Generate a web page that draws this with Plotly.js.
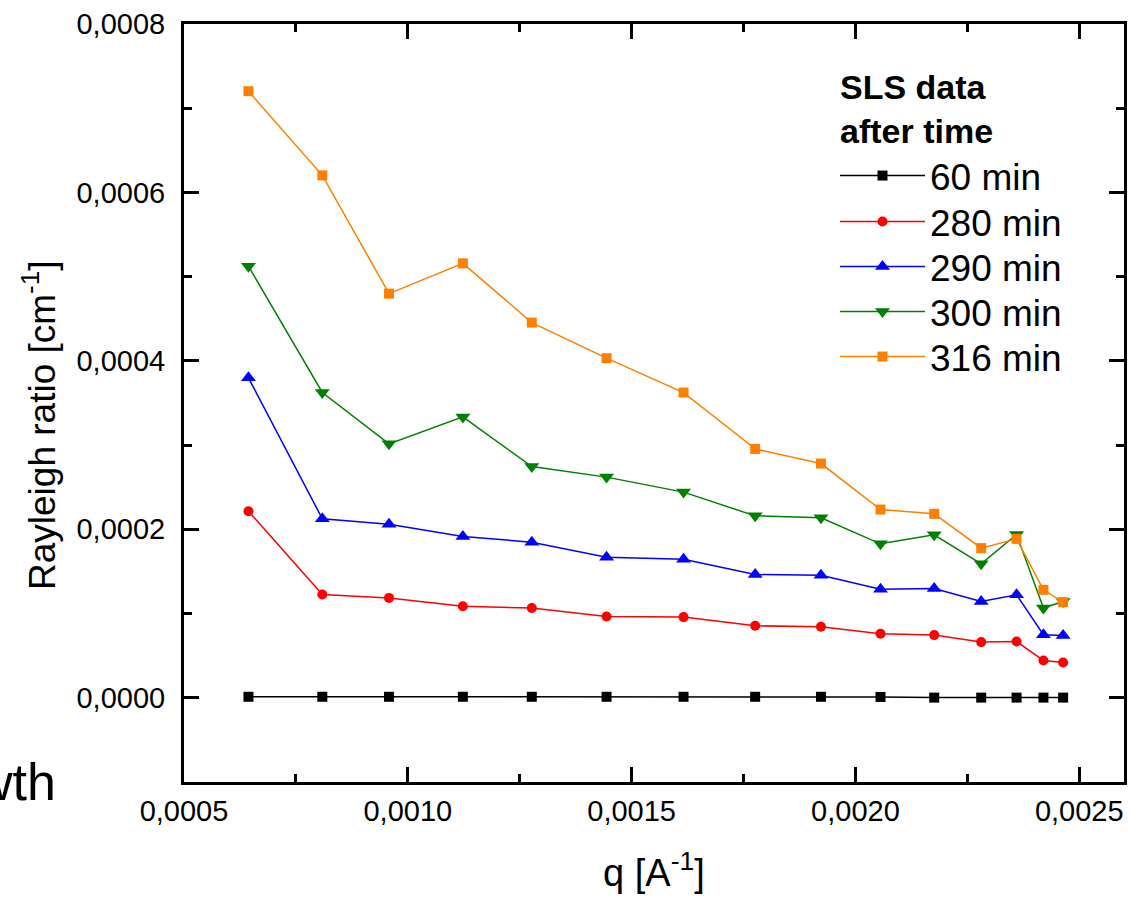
<!DOCTYPE html>
<html>
<head>
<meta charset="utf-8">
<script src="https://cdn.plot.ly/plotly-3.0.1.min.js"></script>
<style>html,body{margin:0;padding:0;background:#fff;}#chart{width:1132px;height:897px;}</style>
</head>
<body>
<div id="chart"></div>
<script>
// q values [A^-1]
var q = [0.000644, 0.000809, 0.000958, 0.001123, 0.001277, 0.001444, 0.001616, 0.001776, 0.001923, 0.002056, 0.002176, 0.002281, 0.002360, 0.002420, 0.002464];

// Rayleigh ratio [cm^-1]
var r60  = [0.0000012, 0.0000012, 0.0000012, 0.0000012, 0.0000012, 0.0000012, 0.0000012, 0.0000012, 0.0000012, 0.0000010, 0.0000002, 0.0000002, 0.0000002, 0.0000002, 0.0000002];
var r280 = [0.0002215, 0.0001226, 0.0001186, 0.0001086, 0.0001065, 0.0000965, 0.0000958, 0.0000855, 0.0000843, 0.0000760, 0.0000744, 0.0000661, 0.0000668, 0.0000443, 0.0000419];
var r290 = [0.0003799, 0.0002125, 0.0002061, 0.0001916, 0.0001848, 0.0001670, 0.0001646, 0.0001463, 0.0001456, 0.0001290, 0.0001297, 0.0001143, 0.0001223, 0.0000748, 0.0000739];
var r300 = [0.0005124, 0.0003625, 0.0003015, 0.0003335, 0.0002745, 0.0002620, 0.0002442, 0.0002160, 0.0002137, 0.0001828, 0.0001935, 0.0001590, 0.0001940, 0.0001065, 0.0001143];
var r316 = [0.0007202, 0.0006203, 0.0004799, 0.0005158, 0.0004455, 0.0004032, 0.0003624, 0.0002955, 0.0002781, 0.0002235, 0.0002184, 0.0001777, 0.0001887, 0.0001282, 0.0001136];

var seriesNames = ['60 min', '280 min', '290 min', '300 min', '316 min'];
var seriesColors = ['#000000', '#ff0000', '#0000ff', '#008000', '#ff8000'];
var seriesSymbols = ['square', 'circle', 'triangle-up', 'triangle-down', 'square'];
var seriesData = [r60, r280, r290, r300, r316];
var markerSizes = [10, 10, 13, 13, 10];

var xTicks = [0.0005, 0.0010, 0.0015, 0.0020, 0.0025];
var xMinor = [0.00075, 0.00125, 0.00175, 0.00225];
var yTicks = [0, 0.0002, 0.0004, 0.0006, 0.0008];
var yMinor = [-0.0001, 0.0001, 0.0003, 0.0005, 0.0007];

var font = 'Liberation Sans, Arial, sans-serif';

// plot area in pixels (for placing paper-referenced items)
var W = 1132, H = 897, L = 184, R = 8, T = 24, B = 115;
var PW = W - L - R, PH = H - T - B;
function px(xp) { return (xp - L) / PW; }
function py(yp) { return (H - B - yp) / PH; }

var legendIds = ['legend', 'legend2', 'legend3', 'legend4', 'legend5'];
var legendRows = [176, 222, 267, 312, 357];

var traces = seriesData.map(function (ys, i) {
  return {
    x: q, y: ys, type: 'scatter', mode: 'lines+markers', name: seriesNames[i],
    line: {color: seriesColors[i], width: 1.5},
    marker: {color: seriesColors[i], symbol: seriesSymbols[i], size: markerSizes[i], line: {width: 0}},
    cliponaxis: false,
    legend: legendIds[i]
  };
});

var axisCommon = {
  showline: true, linecolor: '#000', linewidth: 3, mirror: 'ticks',
  ticks: 'inside', ticklen: 15, tickwidth: 3, tickcolor: '#000',
  showgrid: false, zeroline: false,
  tickfont: {family: font, size: 29, color: '#000'}
};

var layout = {
  width: W, height: H,
  margin: {l: L, r: R, t: T, b: B, pad: 0},
  paper_bgcolor: '#fff', plot_bgcolor: '#fff',
  separators: ', ',
  font: {family: font, color: '#000'},
  showlegend: true,
  xaxis: Object.assign({}, axisCommon, {
    range: [0.0005, 0.0026], tickvals: xTicks, tickformat: '.4f', ticklabelstandoff: 1,
    minor: {tickvals: xMinor, ticks: 'inside', ticklen: 8, tickwidth: 3, tickcolor: '#000'},
    title: {text: 'q [A<sup>-1</sup>]', font: {family: font, size: 38, color: '#000'}, standoff: 34}
  }),
  yaxis: Object.assign({}, axisCommon, {
    range: [-0.0001, 0.0008], tickvals: yTicks, tickformat: '.4f', ticklabelstandoff: 10,
    minor: {tickvals: yMinor, ticks: 'inside', ticklen: 8, tickwidth: 3, tickcolor: '#000'}
  }),
  annotations: [
    {
      text: 'Rayleigh ratio [cm<sup>-1</sup>]', textangle: -90,
      xref: 'paper', yref: 'paper', x: px(39), y: py(426),
      xanchor: 'center', yanchor: 'middle', showarrow: false,
      font: {family: font, size: 37, color: '#000'}
    },
    {
      text: '<b>SLS data</b><br><b>after time</b>', align: 'left',
      xref: 'paper', yref: 'paper', x: px(838), y: py(66),
      xanchor: 'left', yanchor: 'top', showarrow: false,
      font: {family: font, size: 34, color: '#000'}
    },
    {
      text: 'wth', xref: 'paper', yref: 'paper',
      x: px(58), y: py(813),
      xanchor: 'right', yanchor: 'bottom', showarrow: false,
      font: {family: font, size: 52, color: '#000'}
    }
  ]
};

legendIds.forEach(function (id, i) {
  layout[id] = {
    x: px(835), y: py(legendRows[i]), xanchor: 'left', yanchor: 'middle',
    bgcolor: 'rgba(0,0,0,0)', borderwidth: 0,
    font: {family: font, size: 37, color: '#000'},
    itemwidth: 85
  };
});

Plotly.newPlot('chart', traces, layout, {displayModeBar: false, staticPlot: true});
</script>
</body>
</html>
